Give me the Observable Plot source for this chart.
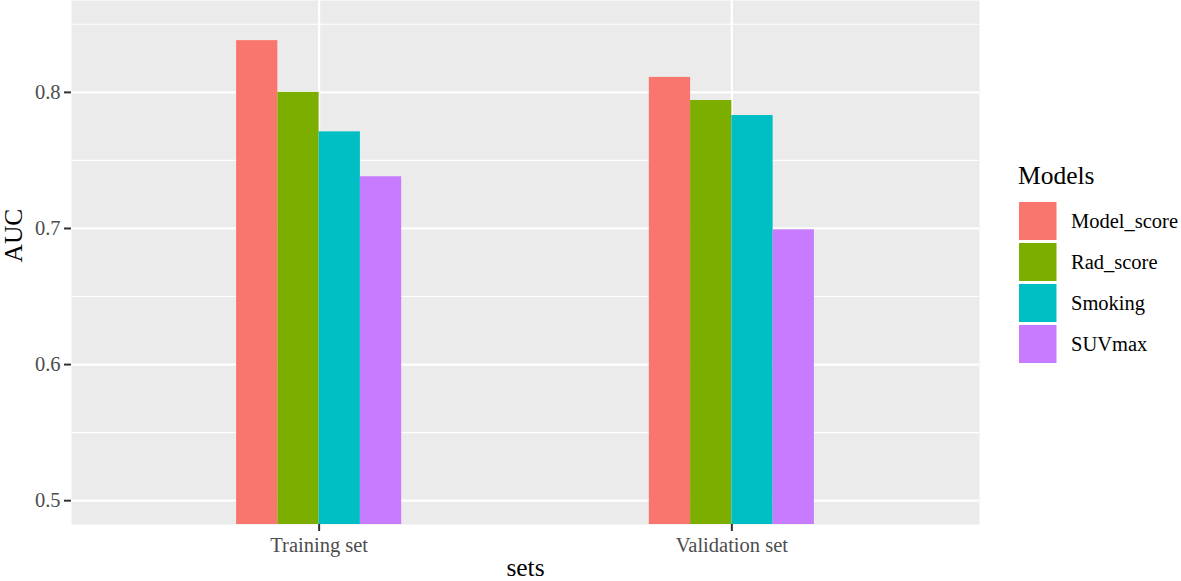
<!DOCTYPE html>
<html>
<head>
<meta charset="utf-8">
<script src="https://cdn.jsdelivr.net/npm/d3@7"></script>
<script src="https://cdn.jsdelivr.net/npm/@observablehq/plot@0.6"></script>
<style>
  html, body { margin: 0; padding: 0; background: #fff; }
  #wrap { position: relative; width: 1181px; height: 581px; overflow: hidden; font-family: "Liberation Serif", "Times New Roman", serif; }
  #legend { position: absolute; left: 0; top: 0; }
  #legend text { font-family: "Liberation Serif", "Times New Roman", serif; }
</style>
</head>
<body>
<div id="wrap"></div>
<script>
// ---- data ----
const sets = ["Training set", "Validation set"];
const models = ["Model_score", "Rad_score", "Smoking", "SUVmax"];
const trainingAUC = [0.838, 0.800, 0.771, 0.738];
const validationAUC = [0.811, 0.794, 0.783, 0.699];
const colors = ["#F8766D", "#7CAE00", "#00BFC4", "#C77CFF"];
const yMajorTicks = [0.5, 0.6, 0.7, 0.8];
const yMinorTicks = [0.55, 0.65, 0.75, 0.85];

// ---- layout ----
const W = 1181, H = 581;
const yDomain = [0.4825, 0.8675];
const xDomain = [0.4, 2.6];
const dodgeWidth = 0.4;
const barW = dodgeWidth / models.length;
const font = "'Liberation Serif', 'Times New Roman', serif";

const series = [trainingAUC, validationAUC];
const rows = [];
sets.forEach((s, si) => {
  models.forEach((m, mi) => {
    const center = si + 1;
    const x1 = center - dodgeWidth / 2 + mi * barW;
    rows.push({set: s, model: m, x1, x2: x1 + barW, auc: series[si][mi]});
  });
});

const chart = Plot.plot({
  width: W,
  height: H,
  marginLeft: 71,
  marginRight: 202,
  marginTop: 0,
  marginBottom: 57,
  style: {fontFamily: font, fontSize: "20.5px", background: "#fff", overflow: "visible"},
  x: {type: "linear", domain: xDomain, axis: null},
  y: {domain: yDomain, axis: null},
  color: {domain: models, range: colors},
  marks: [
    Plot.frame({fill: "#EBEBEB", stroke: "none"}),
    Plot.gridY(yMinorTicks, {stroke: "#fff", strokeOpacity: 1, strokeWidth: 1.1}),
    Plot.gridY(yMajorTicks, {stroke: "#fff", strokeOpacity: 1, strokeWidth: 2.2}),
    Plot.gridX([1, 2], {stroke: "#fff", strokeOpacity: 1, strokeWidth: 2.2}),
    Plot.rectY(rows, {x1: "x1", x2: "x2", y1: yDomain[0], y2: "auc", fill: "model"}),
    Plot.axisY(yMajorTicks, {
      tickSize: 7, tickPadding: 4, strokeWidth: 2, stroke: "#333333", fill: "#4D4D4D",
      tickFormat: d3.format(".1f"), label: null, fontSize: 20.5
    }),
    Plot.axisX([1, 2], {
      tickSize: 7, tickPadding: 6, strokeWidth: 2, stroke: "#333333", fill: "#4D4D4D",
      tickFormat: d => sets[d - 1], label: null, fontSize: 20.5
    }),
    Plot.text(["sets"], {frameAnchor: "bottom", text: d => d, dy: 51, lineAnchor: "bottom", fontSize: 25.5, fill: "#000"}),
    Plot.text(["AUC"], {frameAnchor: "left", text: d => d, dx: -58, rotate: -90, lineAnchor: "middle", fontSize: 25.5, fill: "#000"})
  ]
});

const wrap = document.getElementById("wrap");
wrap.appendChild(chart);

// ---- legend ----
const leg = d3.select(wrap).append("svg")
  .attr("id", "legend")
  .attr("width", W).attr("height", H)
  .style("pointer-events", "none");
leg.append("text")
  .attr("x", 1018).attr("y", 184)
  .attr("font-family", font)
  .attr("font-size", 25.5).attr("fill", "#000")
  .text("Models");
const item = leg.selectAll("g.item").data(models).join("g")
  .attr("class", "item")
  .attr("transform", (d, i) => `translate(1019,${202 + i * 41})`);
item.append("rect")
  .attr("width", 37.5).attr("height", 38)
  .attr("fill", (d, i) => colors[i]);
item.append("text")
  .attr("x", 52).attr("y", 19).attr("dy", "0.35em")
  .attr("font-family", font)
  .attr("font-size", 20.5).attr("fill", "#000")
  .text(d => d);
</script>
</body>
</html>
